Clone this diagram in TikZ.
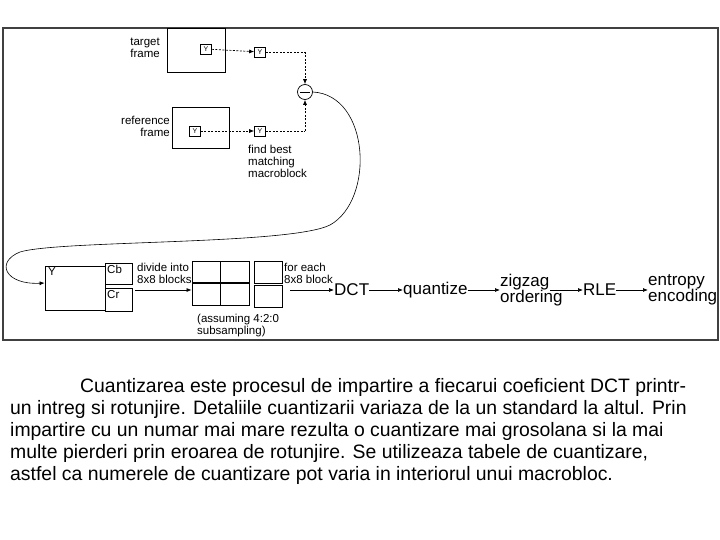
\documentclass[tikz,border=0pt]{standalone}
\usepackage{fontspec}
\setmainfont{Liberation Sans}
\usetikzlibrary{arrows.meta}
\begin{document}
\begin{tikzpicture}[x=1pt,y=-1pt,
  lab/.style={font=\fontsize{11.5}{12}\selectfont,inner sep=0pt,align=left},
  big/.style={font=\fontsize{17}{16}\selectfont,inner sep=0pt,align=left},
  box/.style={draw,line width=0.8pt},
  sm/.style={draw,line width=0.6pt,minimum width=11pt,minimum height=10pt,inner sep=0pt,font=\fontsize{7}{7}\selectfont},
  arr/.style={-{Latex[length=5pt,width=4pt]},line width=0.7pt},
  darr/.style={arr,dashed,dash pattern=on 2pt off 1.5pt},
  para/.style={font=\fontsize{19.4}{22}\selectfont,inner sep=0pt,anchor=base west}]
\useasboundingbox (0,0) rectangle (720,540);
\draw[line width=1.2pt,black!75] (3,28) rectangle (718,340);
% target
\node[box,minimum width=58pt,minimum height=44pt,inner sep=0] (tf) at (196,50) {};
\node[lab,align=right,anchor=east] (tfl) at (160,48) {target\\frame};
\node[sm] (ty) at (206,49) {Y};
\node[sm] (ty2) at (260,52) {Y};
\coordinate (tc) at (305,52);
\draw[darr] (ty) -- (ty2);
% reference
\node[box,minimum width=57pt,minimum height=41pt,inner sep=0] (rf) at (201,128) {};
\node[lab,align=right,anchor=east] (rfl) at (170,126) {reference\\frame};
\node[sm] (ry) at (195,131) {Y};
\node[sm] (ry2) at (260,131) {Y};
\coordinate (rc) at (305,131);
\draw[darr] (ry) -- (ry2);
\node[circle,draw,line width=0.7pt,minimum size=15pt,inner sep=0] (minus) at (305,92) {};
\draw[line width=0.9pt] (300,92) -- (310,92);
\draw[dashed,dash pattern=on 2pt off 1.5pt,line width=0.7pt] (ty2) -- (tc);
\draw[darr] (tc) -- (minus);
\draw[dashed,dash pattern=on 2pt off 1.5pt,line width=0.7pt] (ry2) -- (rc);
\draw[darr] (rc) -- (minus);
\node[lab,anchor=north west] (fb) at (248,145) {find best\\matching\\macroblock};
% YCbCr
\node[box,minimum width=60pt,minimum height=44pt,inner sep=0] (Y) at (75,288) {};
\node[lab,anchor=north west] at (48,267) {Y};
\node[box,minimum width=27pt,minimum height=21pt,inner sep=0] (cb) at (118.5,273.5) {};
\node[lab,anchor=north west] at (107,265) {Cb};
\node[box,minimum width=27pt,minimum height=23pt,inner sep=0] (cr) at (118.5,300) {};
\node[lab,anchor=north west] at (107,290) {Cr};
\draw[arr,line width=0.6pt] (minus.east) .. controls (370,95) and (375,200) .. (330,225)
  .. controls (290,245) and (60,240) .. (20,252)
  .. controls (-5,262) and (5,285) .. (Y.west |- 0,283) coordinate (yin);
\node[lab,anchor=north west] (div) at (137,263) {divide into\\8x8 blocks};
% grid
\node[box,minimum width=57pt,minimum height=44pt,inner sep=0] (grid) at (220.5,283) {};
\draw[line width=0.8pt] (220.5,261) -- (220.5,305);
\draw[line width=1.6pt] (192,283) -- (249,283);
\draw[arr] (135,290) -- (grid.west |- 0,290);
\node[box,minimum width=28pt,minimum height=22pt,inner sep=0] (b1) at (268,272) {};
\node[box,minimum width=28pt,minimum height=22pt,inner sep=0] (b2) at (268,296) {};
\node[lab,anchor=north west] (fe) at (284,263) {for each\\8x8 block};
\node[lab,anchor=north west] (ass) at (197,314) {(assuming 4:2:0\\subsampling)};
% pipeline
\node[big,anchor=west] (dct) at (334,290) {DCT};
\node[big,anchor=west] (q) at (403,290) {quantize};
\node[big,anchor=west] (zz) at (500,290) {zigzag\\ordering};
\node[big,anchor=west] (rle) at (583,290) {RLE};
\node[big,anchor=west] (ent) at (648,290) {entropy\\encoding};
\draw[arr] (290,290) -- (dct.west);
\draw[arr] (dct.east) -- (q.west);
\draw[arr] (q.east) -- (q.east -| zz.west);
\draw[arr] (550,290) -- (rle.west);
\draw[arr] (rle.east) -- (ent.west |- rle.east);
% paragraph
\node[para] (p1) at (80,392) {Cuantizarea este procesul de impartire a fiecarui coeficient DCT printr-};
\node[para] (p2) at (10,414) {un intreg si rotunjire. Detaliile cuantizarii variaza de la un standard la altul. Prin};
\node[para] (p3) at (10,436) {impartire cu un numar mai mare rezulta o cuantizare mai grosolana si la mai};
\node[para] (p4) at (10,458) {multe pierderi prin eroarea de rotunjire. Se utilizeaza tabele de cuantizare,};
\node[para] (p5) at (10,480) {astfel ca numerele de cuantizare pot varia in interiorul unui macrobloc.};
\end{tikzpicture}
\end{document}
